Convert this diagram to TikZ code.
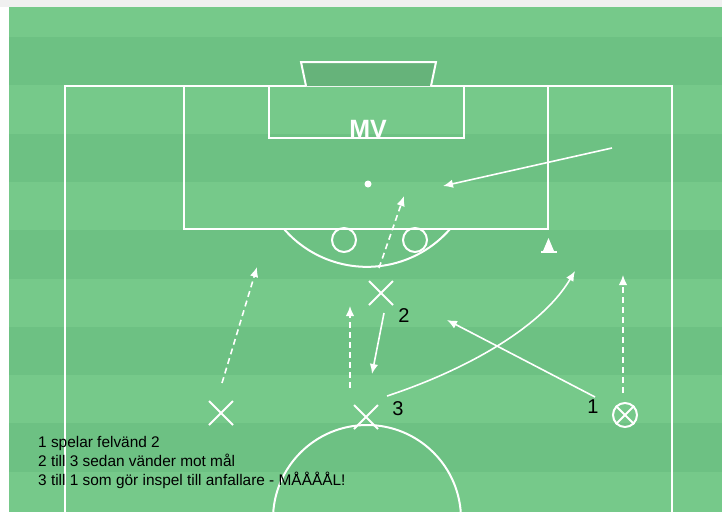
\documentclass[tikz,border=0pt]{standalone}
\usepackage{fontspec}
\setmainfont{Liberation Sans}
\usetikzlibrary{shapes.misc,arrows.meta}
\definecolor{planljus}{HTML}{76C98A}
\definecolor{planmork}{HTML}{6DC183}
\definecolor{malfarg}{HTML}{66B37A}
\tikzset{planlinje/.style={white,line width=2pt},
  passning/.style={white,line width=1.6pt,-{Latex[length=10pt,width=8.5pt]}},
  lopning/.style={passning,dash pattern=on 6pt off 4pt},
  spelare/.style={cross out,draw=white,line width=2pt,minimum size=22pt,inner sep=0pt},
  siffra/.style={font=\fontsize{20}{20}\selectfont}}

\begin{document}
\begin{tikzpicture}[x=1pt,y=-1pt]
\clip (0,0) rectangle (722,512);
\fill[black!6] (0,0) rectangle (722,7);
\fill[white] (0,7) rectangle (9,512);
\fill[planljus] (9,7) rectangle (722,512);
\foreach \k in {0,...,4}
  \fill[planmork] (9,{37+96.6*\k}) rectangle (722,{85.3+96.6*\k});
\draw[planlinje] (65,512) -- (65,86) -- (672,86) -- (672,512);
\draw[planlinje] (184,86) rectangle (548,229);
\draw[planlinje] (269,86) rectangle (464,138);
\draw[planlinje,fill=malfarg] (306,86) -- (301,62) -- (436,62) -- (431,86);
\draw[planlinje] (284,229) arc[start angle=139,end angle=41,radius=110];
\draw[planlinje] (367,519) circle (94);
\fill[white] (368,184) circle (3.5);
\draw[planlinje] (344,240) circle (12);
\draw[planlinje] (415,240) circle (12);
\node (mv) at (368,129) [white,font=\bfseries\fontsize{25}{25}\selectfont] {MV};
\fill[white] (548.5,238) -- (554,251) -- (543,251) -- cycle;
\fill[white] (541,251) rectangle (557,253);
\node[spelare] (s2) at (381,293) {};
\node[spelare] (s3) at (366,417) {};
\node[spelare] (s4) at (221,413) {};
\node[circle,draw=white,line width=2pt,minimum size=24pt,inner sep=0pt] (s1) at (625,415) {};
\draw[planlinje] (s1.45) -- (s1.225) (s1.135) -- (s1.315);
\node[siffra] (t1) at (593,407) {1};
\node[siffra] (t2) at (404,316) {2};
\node[siffra] (t3) at (398,409) {3};
\coordinate (a1) at (222,383); \coordinate (b1) at (257,267);
\coordinate (a2) at (379,268); \coordinate (b2) at (404,196);
\coordinate (a3) at (350,388); \coordinate (b3) at (350,306);
\coordinate (a4) at (623,393); \coordinate (b4) at (623,275);
\coordinate (a5) at (384,313); \coordinate (b5) at (372,374);
\coordinate (a6) at (387,396); \coordinate (b6) at (575,271);
\coordinate (a7) at (595,397); \coordinate (b7) at (447,320);
\coordinate (a8) at (612,148); \coordinate (b8) at (443,186);
\draw[lopning] (a1) -- (b1);
\draw[lopning] (a2) -- (b2);
\draw[lopning] (a3) -- (b3);
\draw[lopning] (a4) -- (b4);
\draw[passning] (a5) -- (b5);
\draw[passning] (a6) .. controls (460,372) and (540,330) .. (b6);
\draw[passning] (a7) -- (b7);
\draw[passning] (a8) -- (b8);
\node (text) [anchor=north west,align=left,inner sep=0pt,font=\fontsize{15.4}{19.2}\selectfont] at (38,436) {1 spelar felvänd 2\\2 till 3 sedan vänder mot mål\\3 till 1 som gör inspel till anfallare - MÅÅÅÅL!};
\end{tikzpicture}
\end{document}
